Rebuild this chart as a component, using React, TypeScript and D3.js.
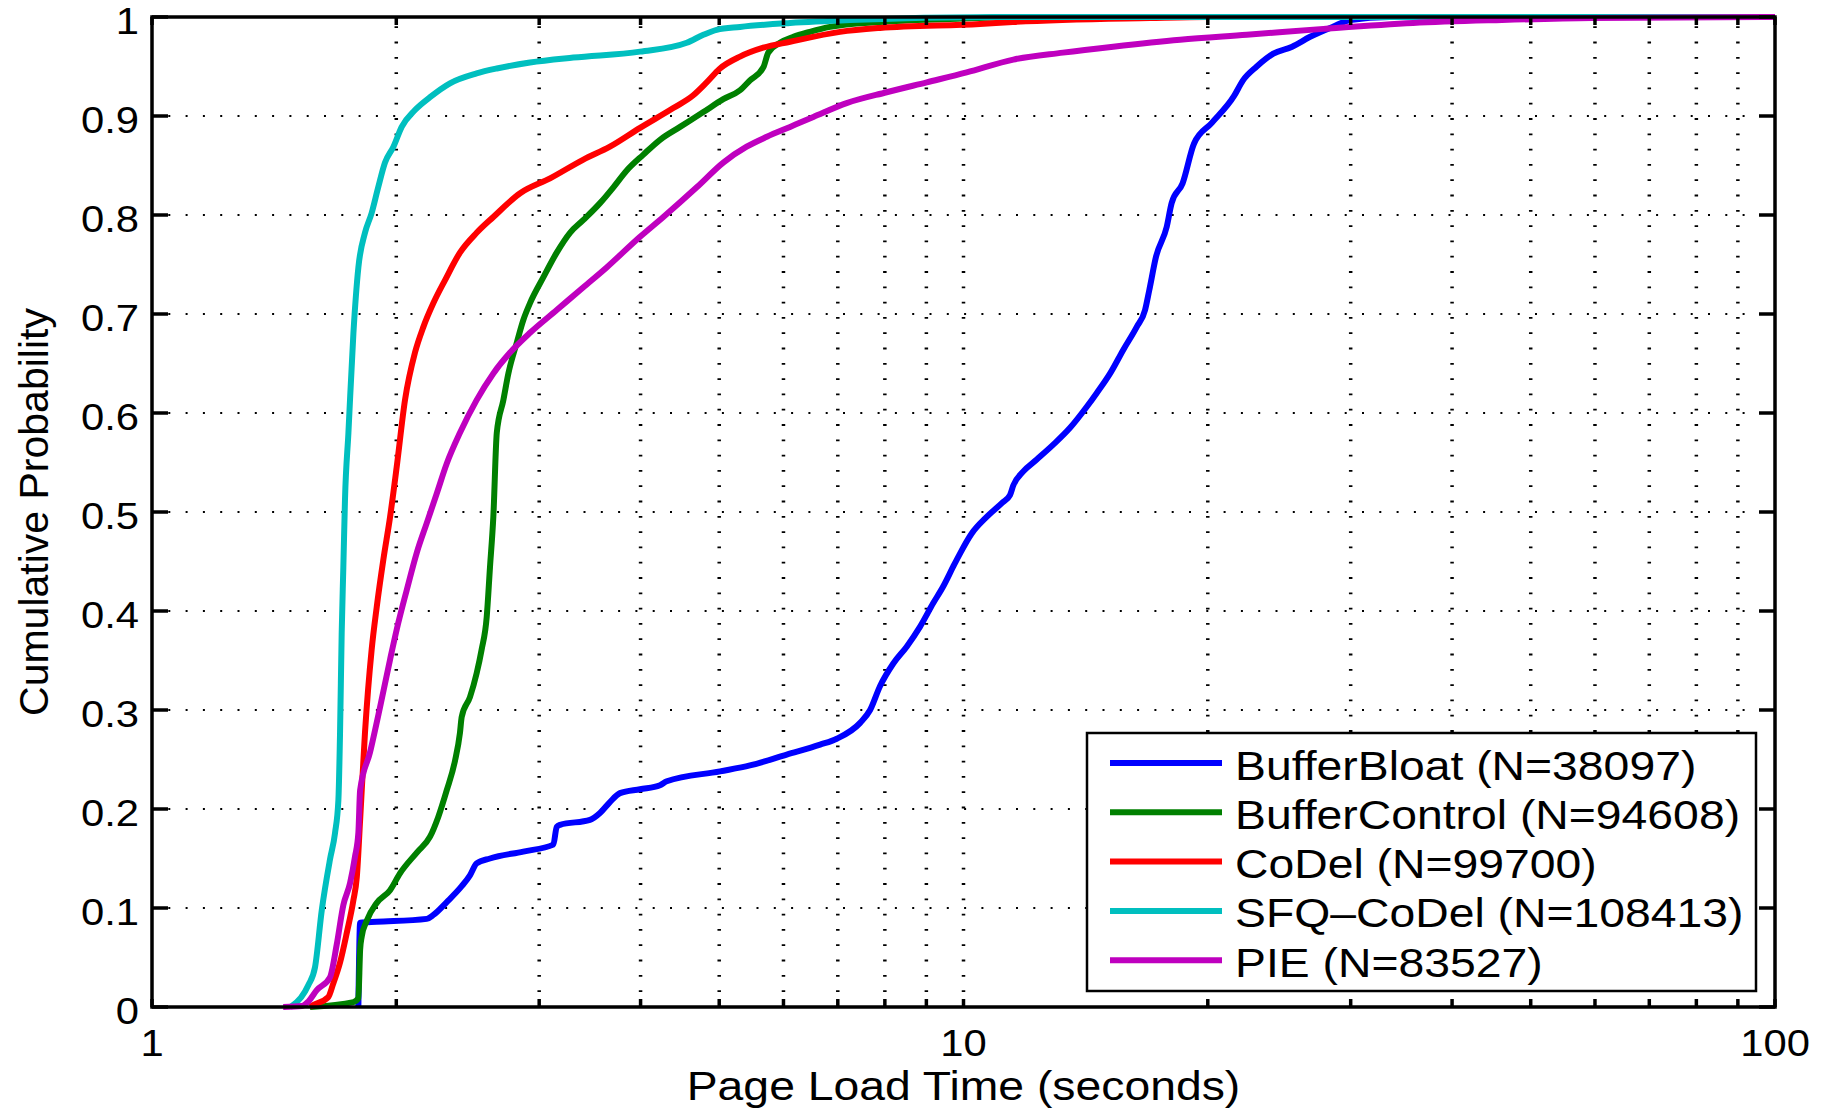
import React from "react";
import * as d3 from "d3";

// Page-load-time CDFs for five queue-management schemes (log-scaled seconds).
const W = 1831;
const H = 1109;
const plot = { left: 152, right: 1775, top: 17, bottom: 1007 };

const seriesNames = ["BufferBloat", "BufferControl", "CoDel", "SFQ\u2013CoDel", "PIE"];
const sampleCounts = [38097, 94608, 99700, 108413, 83527];
const seriesColors = ["#0000ff", "#008000", "#ff0000", "#00bfbf", "#bf00bf"];

// [seconds, cumulative probability]
const bufferBloat: [number, number][] = [
  [1.796, 0], [1.805, 0.085], [1.892, 0.086], [2.181, 0.089], [2.222, 0.093], [2.308, 0.106],
  [2.408, 0.122], [2.465, 0.133], [2.512, 0.145], [2.609, 0.15], [2.868, 0.157], [3.123, 0.164],
  [3.153, 0.182], [3.183, 0.184], [3.465, 0.189], [3.565, 0.196], [3.667, 0.207], [3.773, 0.216],
  [3.994, 0.22], [4.227, 0.224], [4.309, 0.228], [5.012, 0.238], [5.456, 0.244], [6.056, 0.255],
  [6.658, 0.265], [6.98, 0.271], [7.458, 0.287], [7.672, 0.3], [7.89, 0.324], [8.194, 0.347],
  [8.511, 0.364], [8.838, 0.384], [9.178, 0.408], [9.443, 0.425], [9.714, 0.445], [9.901, 0.458],
  [10.23, 0.478], [10.68, 0.495], [11.15, 0.509], [11.41, 0.517], [11.52, 0.527], [11.85, 0.541],
  [12.31, 0.553], [12.9, 0.568], [13.53, 0.585], [14.18, 0.606], [14.59, 0.62], [15.16, 0.64],
  [15.74, 0.664], [16.35, 0.687], [16.74, 0.704], [16.94, 0.724], [17.27, 0.758], [17.8, 0.788],
  [18.05, 0.812], [18.62, 0.832], [19.23, 0.872], [20.23, 0.893], [21.54, 0.92], [22.1, 0.936],
  [22.98, 0.95], [24.09, 0.963], [25.41, 0.97], [26.74, 0.98], [28.49, 0.99], [29.97, 0.997],
  [33.5, 1], [100, 1],
];

const bufferControl: [number, number][] = [
  [1.566, 0], [1.771, 0.005], [1.796, 0.009], [1.805, 0.058], [1.813, 0.071], [1.839, 0.087],
  [1.892, 0.105], [1.965, 0.118], [2.021, 0.135], [2.12, 0.156], [2.201, 0.172], [2.253, 0.192],
  [2.308, 0.219], [2.363, 0.249], [2.396, 0.277], [2.408, 0.293], [2.465, 0.313], [2.512, 0.337],
  [2.548, 0.361], [2.585, 0.394], [2.609, 0.444], [2.634, 0.495], [2.66, 0.58], [2.71, 0.613],
  [2.749, 0.64], [2.815, 0.671], [2.868, 0.694], [2.923, 0.711], [3.035, 0.737], [3.153, 0.762],
  [3.274, 0.782], [3.401, 0.795], [3.565, 0.812], [3.703, 0.828], [3.846, 0.845], [4.032, 0.861],
  [4.227, 0.876], [4.474, 0.889], [4.78, 0.904], [5.058, 0.917], [5.304, 0.926], [5.456, 0.936],
  [5.666, 0.949], [5.747, 0.964], [5.94, 0.974], [6.17, 0.98], [6.468, 0.985], [6.847, 0.99],
  [7.89, 0.995], [9.62, 0.998], [12, 1], [100, 1],
];

const coDel: [number, number][] = [
  [1.566, 0], [1.58, 0.002], [1.649, 0.01], [1.673, 0.024], [1.705, 0.045], [1.738, 0.075],
  [1.771, 0.108], [1.788, 0.131], [1.805, 0.189], [1.83, 0.277], [1.865, 0.361], [1.892, 0.404],
  [1.928, 0.452], [1.965, 0.495], [2.002, 0.545], [2.05, 0.613], [2.109, 0.661], [2.16, 0.687],
  [2.222, 0.711], [2.296, 0.734], [2.396, 0.762], [2.512, 0.782], [2.634, 0.798], [2.842, 0.822],
  [3.094, 0.837], [3.401, 0.856], [3.667, 0.869], [3.994, 0.888], [4.389, 0.908], [4.645, 0.921],
  [4.825, 0.934], [5.011, 0.948], [5.304, 0.96], [5.666, 0.969], [6.113, 0.975], [7.045, 0.985],
  [7.89, 0.989], [10.48, 0.993], [11.5, 0.995], [16.97, 0.999], [20, 1], [100, 1],
];

const sfqCoDel: [number, number][] = [
  [1.48, 0], [1.487, 0.001], [1.558, 0.022], [1.588, 0.04], [1.619, 0.098], [1.657, 0.149],
  [1.681, 0.176], [1.697, 0.209], [1.705, 0.277], [1.713, 0.378], [1.721, 0.444], [1.729, 0.512],
  [1.746, 0.58], [1.771, 0.681], [1.796, 0.747], [1.83, 0.782], [1.865, 0.802], [1.9, 0.828],
  [1.937, 0.853], [1.984, 0.869], [2.031, 0.889], [2.109, 0.906], [2.201, 0.919], [2.329, 0.933],
  [2.512, 0.943], [2.66, 0.948], [2.923, 0.954], [3.305, 0.959], [3.994, 0.965], [4.56, 0.974],
  [4.78, 0.982], [4.964, 0.987], [5.304, 0.99], [6.113, 0.994], [7.25, 0.997], [11, 1], [100, 1],
];

const pie: [number, number][] = [
  [1.451, 0], [1.53, 0.001], [1.56, 0.006], [1.596, 0.017], [1.657, 0.03], [1.689, 0.063],
  [1.721, 0.103], [1.754, 0.125], [1.779, 0.152], [1.796, 0.176], [1.805, 0.219], [1.856, 0.257],
  [1.91, 0.303], [1.965, 0.351], [2.002, 0.381], [2.06, 0.421], [2.12, 0.459], [2.181, 0.489],
  [2.244, 0.519], [2.308, 0.549], [2.396, 0.58], [2.512, 0.613], [2.634, 0.64], [2.762, 0.661],
  [2.923, 0.681], [3.153, 0.704], [3.401, 0.727], [3.633, 0.747], [3.994, 0.778], [4.267, 0.798],
  [4.691, 0.828], [5.058, 0.853], [5.405, 0.869], [5.723, 0.879], [6.113, 0.889], [6.531, 0.899],
  [7.178, 0.913], [8.041, 0.924], [9.01, 0.934], [10.09, 0.944], [11.52, 0.957], [13.26, 0.964],
  [15.29, 0.97], [18.49, 0.977], [22.34, 0.982], [27.77, 0.988], [35.81, 0.994], [46.09, 0.997],
  [59.5, 0.999], [100, 1],
];

const seriesData = [bufferBloat, bufferControl, coDel, sfqCoDel, pie];

const yTicks = [0, 0.1, 0.2, 0.3, 0.4, 0.5, 0.6, 0.7, 0.8, 0.9, 1];
const yTickLabels = ["0", "0.1", "0.2", "0.3", "0.4", "0.5", "0.6", "0.7", "0.8", "0.9", "1"];
const xMajorTicks = [1, 10, 100];
const xTickLabels = ["1", "10", "100"];

const xLabel = "Page Load Time (seconds)";
const yLabel = "Cumulative Probability";

const FONT = "'Liberation Sans', Arial, Helvetica, sans-serif";
const SX = 1.13; // glyphs are drawn slightly wide

export default function App() {
  const x = d3.scaleLog().domain([1, 100]).range([plot.left, plot.right]);
  const y = d3.scaleLinear().domain([0, 1]).range([plot.bottom, plot.top]);
  const line = d3
    .line<[number, number]>()
    .x((d) => x(d[0]))
    .y((d) => y(d[1]))
    .curve(d3.curveMonotoneX);

  const allXTicks = x.ticks(); // 1..9, 10..90, 100
  const innerXTicks = allXTicks.filter((t) => t > 1 && t < 100);
  const innerYTicks = yTicks.filter((t) => t > 0 && t < 1);

  const legend = { left: 1087, top: 733, width: 669, height: 258 };
  const rowY0 = 763;
  const rowStep = 49.3;

  return (
    <svg
      width={W}
      height={H}
      viewBox={`0 0 ${W} ${H}`}
      style={{ position: "absolute", left: 0, top: 0, background: "#fff" }}
    >
      <rect x={0} y={0} width={W} height={H} fill="#fff" />

      {/* grid */}
      <g stroke="#000">
        {innerYTicks.map((t) => (
          <line
            key={`gy${t}`}
            x1={plot.left - 1}
            x2={plot.right}
            y1={y(t)}
            y2={y(t)}
            strokeWidth={2}
            strokeDasharray="2 15.3"
          />
        ))}
        {innerXTicks.map((t) => (
          <line
            key={`gx${t}`}
            x1={x(t)}
            x2={x(t)}
            y1={plot.bottom - 15}
            y2={plot.top}
            strokeWidth={3.5}
            strokeDasharray="1.8 13.5"
          />
        ))}
      </g>

      {/* curves */}
      <g fill="none" strokeWidth={6} strokeLinejoin="round" strokeLinecap="butt">
        {seriesData.map((d, i) => (
          <path key={seriesNames[i]} d={line(d) ?? ""} stroke={seriesColors[i]} />
        ))}
      </g>

      {/* axes box and ticks */}
      <g stroke="#000" strokeWidth={3.5} fill="none">
        <rect
          x={plot.left}
          y={plot.top}
          width={plot.right - plot.left}
          height={plot.bottom - plot.top}
        />
        {yTicks.map((t) => (
          <g key={`ty${t}`}>
            <line x1={plot.left} x2={plot.left + 16} y1={y(t)} y2={y(t)} />
            <line x1={plot.right} x2={plot.right - 16} y1={y(t)} y2={y(t)} />
          </g>
        ))}
        {allXTicks.map((t) => (
          <g key={`tx${t}`}>
            <line x1={x(t)} x2={x(t)} y1={plot.bottom} y2={plot.bottom - 8} />
            <line x1={x(t)} x2={x(t)} y1={plot.top} y2={plot.top + 8} />
          </g>
        ))}
      </g>

      {/* tick labels */}
      <g fontFamily={FONT} fontSize={37} fill="#000">
        {yTicks.map((t, i) => (
          <text
            key={`ly${t}`}
            transform={`translate(${plot.left - 13},${y(t) + 17}) scale(${SX},1)`}
            textAnchor="end"
          >
            {yTickLabels[i]}
          </text>
        ))}
        {xMajorTicks.map((t, i) => (
          <text
            key={`lx${t}`}
            transform={`translate(${x(t)},${plot.bottom + 49}) scale(${SX},1)`}
            textAnchor="middle"
          >
            {xTickLabels[i]}
          </text>
        ))}
      </g>

      {/* axis titles */}
      <g fontFamily={FONT} fontSize={41} fill="#000">
        <text
          transform={`translate(${(plot.left + plot.right) / 2},${1100}) scale(${SX},1)`}
          textAnchor="middle"
        >
          {xLabel}
        </text>
        <text
          transform={`translate(48,${(plot.top + plot.bottom) / 2}) rotate(-90)`}
          textAnchor="middle"
        >
          {yLabel}
        </text>
      </g>

      {/* legend */}
      <g>
        <rect
          x={legend.left}
          y={legend.top}
          width={legend.width}
          height={legend.height}
          fill="#fff"
          stroke="#000"
          strokeWidth={2.5}
        />
        {seriesNames.map((name, i) => {
          const ry = rowY0 + i * rowStep;
          return (
            <g key={`leg${name}`}>
              <line x1={1110} x2={1222} y1={ry} y2={ry} stroke={seriesColors[i]} strokeWidth={6} />
              <text
                transform={`translate(1235,${ry + 16.5}) scale(${SX},1)`}
                fontFamily={FONT}
                fontSize={41}
                fill="#000"
              >
                {`${name} (N=${sampleCounts[i]})`}
              </text>
            </g>
          );
        })}
      </g>
    </svg>
  );
}
